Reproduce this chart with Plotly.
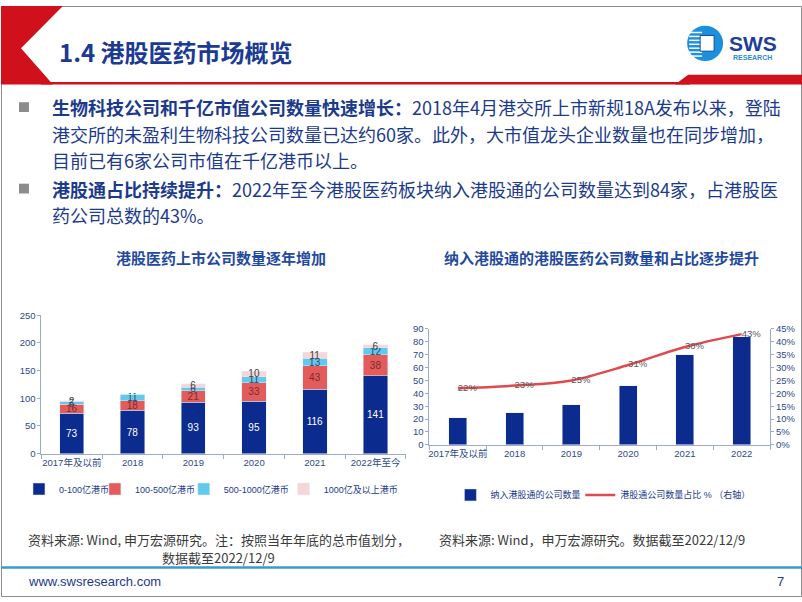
import plotly.graph_objects as go

W, H = 802, 602
def X(p): return p / W
def Y(p): return 1 - p / H

# ---------------- data ----------------
categories1 = ["2017年及以前", "2018", "2019", "2020", "2021", "2022年至今"]
cap_0_100 = [73, 78, 93, 95, 116, 141]
cap_100_500 = [16, 18, 21, 33, 43, 38]
cap_500_1000 = [5, 11, 6, 11, 13, 12]
cap_1000_plus = [2, 0, 6, 10, 11, 6]
series_names1 = ["0-100亿港币", "100-500亿港币", "500-1000亿港币", "1000亿及以上港币"]

categories2 = ["2017年及以前", "2018", "2019", "2020", "2021", "2022"]
connect_count = [21, 25, 31, 46, 70, 84]
connect_share = [0.22, 0.23, 0.25, 0.31, 0.38, 0.43]
series_names2 = ["纳入港股通的公司数量", "港股通公司数量占比 % （右轴）"]

# ---------------- styles ----------------
NAVY = "#0B2C8E"
RED = "#E35B5B"
CYAN = "#62C9EE"
PINK = "#F6D6D6"
TXT = "#1C3A8C"
TICK = "#2E4A8A"
AXIS = "#9AAAD0"
FONT = "Liberation Sans, Noto Sans CJK SC, sans-serif"
CJK = "Noto Sans CJK SC, sans-serif"

fig = go.Figure()

series1 = [cap_0_100, cap_100_500, cap_500_1000, cap_1000_plus]
colors1 = [NAVY, RED, CYAN, PINK]
txtcol1 = ["white", "#7A2E2E", "#2B4A6B", "#404040"]
legend_ids1 = ["legend", "legend2", "legend3", "legend4"]
for vals, name, c, tc, lg in zip(series1, series_names1, colors1, txtcol1, legend_ids1):
    fig.add_trace(go.Bar(
        x=categories1, y=vals, name=name, marker_color=c, width=0.4,
        text=[str(v) for v in vals], textposition="inside", constraintext="none",
        textangle=0, insidetextanchor="middle",
        textfont=dict(size=10, color=tc, family=FONT),
        xaxis="x", yaxis="y", legend=lg, cliponaxis=False))

fig.add_trace(go.Bar(
    x=categories2, y=connect_count, name=series_names2[0], marker_color=NAVY,
    width=0.32, xaxis="x2", yaxis="y2", legend="legend5"))
fig.add_trace(go.Scatter(
    x=categories2, y=connect_share, name=series_names2[1], mode="lines+text",
    line=dict(color="#E04A4E", width=2.5, shape="spline"),
    text=[f"{round(v*100)}%" for v in connect_share], textposition="middle right",
    textfont=dict(size=9.5, color="#595959", family=FONT),
    xaxis="x2", yaxis="y3", legend="legend6", cliponaxis=False))

axis_common = dict(showline=True, linecolor=AXIS, linewidth=1, showgrid=False,
                   zeroline=False, tickfont=dict(size=9.5, color=TICK, family=FONT),
                   tickcolor=AXIS, ticks="outside", tickangle=0)

shapes = []
# slide border
shapes.append(dict(type="rect", xref="paper", yref="paper", x0=X(0.5), x1=X(801.5),
                   y0=Y(601.5), y1=Y(0.5), line=dict(color="#8C8C8C", width=1)))
# red chevron top-left
shapes.append(dict(type="path", xref="paper", yref="paper",
                   path=f"M {X(0)} {Y(0)} L {X(62)} {Y(0)} L {X(20)} {Y(43)} L {X(52)} {Y(80)} L {X(0)} {Y(80)} Z",
                   fillcolor="#D0101A", line=dict(width=0)))
# red header line
shapes.append(dict(type="rect", xref="paper", yref="paper", x0=X(40), x1=X(690),
                   y0=Y(80), y1=Y(77.5), fillcolor="#D0101A", line=dict(width=0)))
shapes.append(dict(type="path", xref="paper", yref="paper",
                   path=f"M {X(675)} {Y(80)} L {X(688)} {Y(70)} L {X(802)} {Y(70)} L {X(802)} {Y(80)} Z",
                   fillcolor="#D0101A", line=dict(width=0)))
# bullets
for yb in (103, 186):
    shapes.append(dict(type="rect", xref="paper", yref="paper", x0=X(18), x1=X(28),
                       y0=Y(yb + 5), y1=Y(yb - 5), fillcolor="#8C8C8C", line=dict(width=0)))
# footer line
shapes.append(dict(type="line", xref="paper", yref="paper", x0=X(0), x1=X(802),
                   y0=Y(572), y1=Y(572), line=dict(color="#3A9BC8", width=2.5)))
# logo
shapes.append(dict(type="circle", xref="paper", yref="paper", x0=X(687), x1=X(723),
                   y0=Y(56), y1=Y(20), fillcolor="#1E8FDD", line=dict(width=0)))
for ys in (27, 31, 35, 39, 43, 47, 51):
    shapes.append(dict(type="line", xref="paper", yref="paper", x0=X(689), x1=X(702),
                       y0=Y(ys), y1=Y(ys), line=dict(color="white", width=1.5)))
shapes.append(dict(type="rect", xref="paper", yref="paper", x0=X(700), x1=X(714),
                   y0=Y(46), y1=Y(30), fillcolor="white", line=dict(color="#0B4FA0", width=1)))

def ann(text, x, y, size, color=TXT, xanchor="left", family=CJK, yanchor="middle"):
    return dict(text=text, x=X(x), y=Y(y), xref="paper", yref="paper", showarrow=False,
                xanchor=xanchor, yanchor=yanchor, font=dict(size=size, color=color, family=family))

annotations = [
    ann("<b>1.4 港股医药市场概览</b>", 56, 46, 24, "#1A3A94"),
    ann("<b>SWS</b>", 727, 38, 21, "#1E3F9A", family="Liberation Sans, sans-serif"),
    ann("<b>RESEARCH</b>", 731, 52, 7, "#2E8BD0", family="Liberation Sans, sans-serif"),
    ann("<b>生物科技公司和千亿市值公司数量快速增长：</b>2018年4月港交所上市新规18A发布以来，登陆", 49, 103, 18),
    ann("港交所的未盈利生物科技公司数量已达约60家。此外，大市值龙头企业数量也在同步增加，", 49, 130, 18),
    ann("目前已有6家公司市值在千亿港币以上。", 49, 157, 18),
    ann("<b>港股通占比持续提升：</b>2022年至今港股医药板块纳入港股通的公司数量达到84家，占港股医", 49, 186, 18),
    ann("药公司总数的43%。", 49, 213, 18),
    ann("<b>港股医药上市公司数量逐年增加</b>", 220, 256, 15, "#1F4A9E", xanchor="center"),
    ann("<b>纳入港股通的港股医药公司数量和占比逐步提升</b>", 601, 256, 15, "#1F4A9E", xanchor="center"),
    ann("资料来源: Wind, 申万宏源研究。注：按照当年年底的总市值划分，", 25, 543, 13, "#3A3A3A"),
    ann("数据截至2022/12/9", 218, 562, 13, "#3A3A3A", xanchor="center"),
    ann("资料来源: Wind，申万宏源研究。数据截至2022/12/9", 437, 543, 13, "#3A3A3A"),
    ann("www.swsresearch.com", 25, 586, 13, "#1C3A8C", family="Liberation Sans, sans-serif"),
    ann("7", 780, 586, 13, "#1C3A8C", xanchor="center", family="Liberation Sans, sans-serif"),
]

def legend_at(x_text, y):
    return dict(orientation="h", x=X(x_text - 40), y=Y(y), xanchor="left", yanchor="middle",
                font=dict(size=9, color=TXT, family=FONT), itemwidth=30,
                bgcolor="rgba(0,0,0,0)", borderwidth=0)

fig.update_layout(
    width=W, height=H, margin=dict(l=0, r=0, t=0, b=0),
    paper_bgcolor="white", plot_bgcolor="white",
    barmode="stack",
    uniformtext=dict(minsize=10, mode="show"),
    font=dict(family=FONT, color=TICK),
    xaxis=dict(domain=[X(40.5), X(405.5)], anchor="y", type="category",
               tickson="boundaries", ticklen=4, **axis_common),
    yaxis=dict(domain=[Y(456), Y(315)], anchor="x", range=[0, 250], dtick=50,
               ticklen=3, **axis_common),
    xaxis2=dict(domain=[X(429), X(770)], anchor="y2", type="category",
                tickson="boundaries", ticklen=4, **axis_common),
    yaxis2=dict(domain=[Y(447), Y(329)], anchor="x2", range=[0, 90], dtick=10,
                ticklen=3, **axis_common),
    yaxis3=dict(overlaying="y2", side="right", anchor="x2", range=[0, 0.45], dtick=0.05,
                tickformat=".0%", ticklen=3, **axis_common),
    legend=legend_at(58, 492),
    legend2=legend_at(134, 492),
    legend3=legend_at(223, 492),
    legend4=legend_at(323, 492),
    legend5=legend_at(490, 498),
    legend6=legend_at(620, 498),
    shapes=shapes, annotations=annotations,
    showlegend=True,
)

fig.write_html("out.html", config={"displayModeBar": False})
with open("out.html", "r", encoding="utf-8") as f:
    html = f.read()
html = html.replace("<body>", '<body style="margin:0;overflow:hidden">', 1)
with open("out.html", "w", encoding="utf-8") as f:
    f.write(html)
